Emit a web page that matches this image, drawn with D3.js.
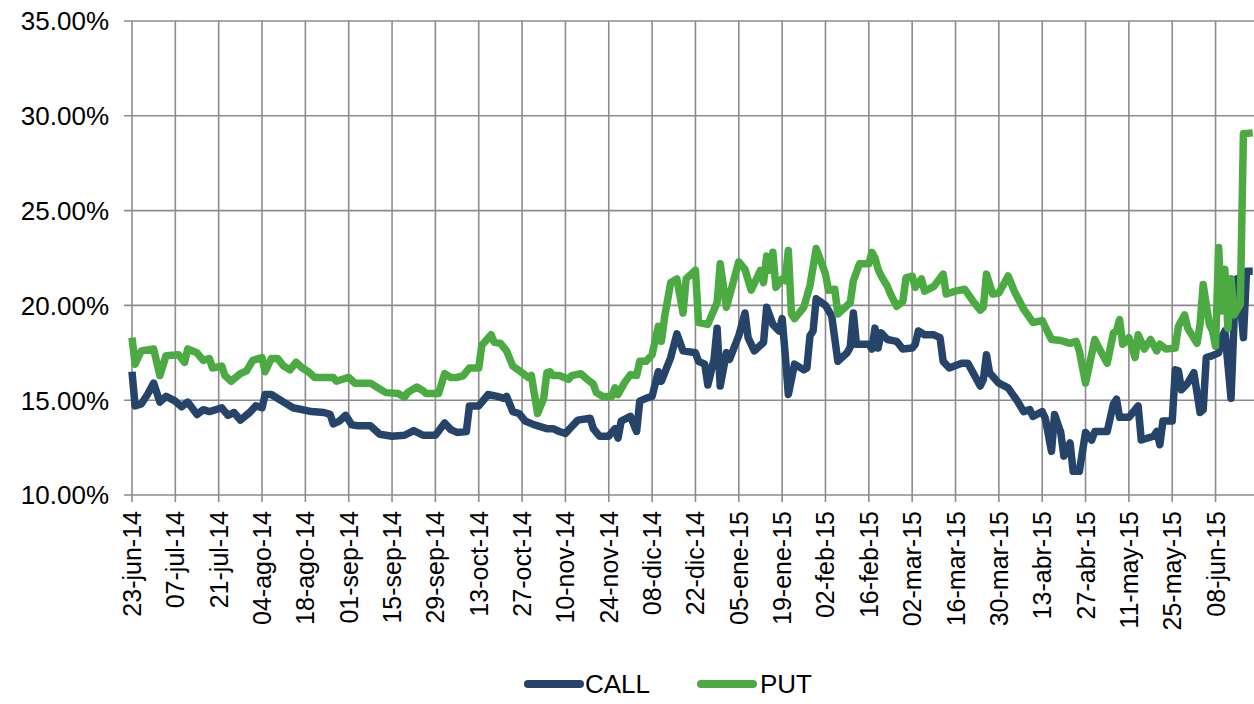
<!DOCTYPE html>
<html>
<head>
<meta charset="utf-8">
<script src="https://cdn.jsdelivr.net/npm/d3@7"></script>
<style>
  html, body { margin: 0; padding: 0; background: #ffffff; }
  svg { display: block; font-family: "Liberation Sans", Arial, sans-serif; }
</style>
</head>
<body>
<svg id="chart" width="1254" height="704"></svg>
<script>
// ---- Data ----
const seriesNames = ["CALL", "PUT"];
const yTickValues = [10, 15, 20, 25, 30, 35];
const xTickLabels = ["23-jun-14","07-jul-14","21-jul-14","04-ago-14","18-ago-14","01-sep-14","15-sep-14","29-sep-14","13-oct-14","27-oct-14","10-nov-14","24-nov-14","08-dic-14","22-dic-14","05-ene-15","19-ene-15","02-feb-15","16-feb-15","02-mar-15","16-mar-15","30-mar-15","13-abr-15","27-abr-15","11-may-15","25-may-15","08-jun-15"];

const callDates = ["2014-06-23","2014-06-24","2014-06-26","2014-06-28","2014-06-30","2014-07-02","2014-07-04","2014-07-07","2014-07-09","2014-07-11","2014-07-14","2014-07-16","2014-07-18","2014-07-22","2014-07-24","2014-07-26","2014-07-28","2014-07-31","2014-08-02","2014-08-04","2014-08-05","2014-08-07","2014-08-11","2014-08-14","2014-08-20","2014-08-24","2014-08-26","2014-08-27","2014-08-29","2014-08-31","2014-09-02","2014-09-04","2014-09-08","2014-09-11","2014-09-15","2014-09-19","2014-09-22","2014-09-25","2014-09-29","2014-10-02","2014-10-04","2014-10-06","2014-10-09","2014-10-10","2014-10-13","2014-10-16","2014-10-19","2014-10-21","2014-10-22","2014-10-24","2014-10-26","2014-10-28","2014-10-31","2014-11-04","2014-11-06","2014-11-08","2014-11-10","2014-11-12","2014-11-14","2014-11-18","2014-11-19","2014-11-21","2014-11-24","2014-11-26","2014-11-27","2014-11-28","2014-12-01","2014-12-03","2014-12-04","2014-12-06","2014-12-08","2014-12-10","2014-12-11","2014-12-14","2014-12-16","2014-12-18","2014-12-22","2014-12-23","2014-12-25","2014-12-26","2014-12-28","2014-12-29","2014-12-30","2015-01-01","2015-01-02","2015-01-05","2015-01-07","2015-01-08","2015-01-10","2015-01-13","2015-01-14","2015-01-16","2015-01-18","2015-01-19","2015-01-20","2015-01-21","2015-01-23","2015-01-26","2015-01-27","2015-01-28","2015-01-29","2015-01-30","2015-02-02","2015-02-04","2015-02-06","2015-02-09","2015-02-10","2015-02-11","2015-02-12","2015-02-16","2015-02-17","2015-02-18","2015-02-19","2015-02-20","2015-02-22","2015-02-25","2015-02-27","2015-03-02","2015-03-03","2015-03-04","2015-03-06","2015-03-09","2015-03-11","2015-03-12","2015-03-14","2015-03-18","2015-03-20","2015-03-22","2015-03-24","2015-03-25","2015-03-26","2015-03-27","2015-03-30","2015-04-02","2015-04-05","2015-04-07","2015-04-09","2015-04-10","2015-04-13","2015-04-14","2015-04-16","2015-04-17","2015-04-19","2015-04-20","2015-04-22","2015-04-23","2015-04-25","2015-04-27","2015-04-29","2015-04-30","2015-05-04","2015-05-06","2015-05-07","2015-05-08","2015-05-11","2015-05-14","2015-05-15","2015-05-19","2015-05-20","2015-05-21","2015-05-22","2015-05-25","2015-05-26","2015-05-27","2015-05-28","2015-05-30","2015-06-01","2015-06-03","2015-06-04","2015-06-05","2015-06-07","2015-06-09","2015-06-10","2015-06-11","2015-06-13","2015-06-14","2015-06-15","2015-06-16","2015-06-17","2015-06-18","2015-06-20"];
const callValues = [16.5,14.7,14.8,15.3,15.9,14.9,15.2,14.95,14.65,14.9,14.25,14.5,14.4,14.6,14.2,14.35,13.95,14.35,14.7,14.6,15.3,15.3,14.9,14.6,14.4,14.35,14.25,13.75,13.9,14.2,13.7,13.65,13.65,13.2,13.1,13.15,13.4,13.15,13.15,13.8,13.45,13.3,13.35,14.7,14.7,15.3,15.2,15.1,15.2,14.4,14.3,13.9,13.7,13.5,13.5,13.35,13.25,13.6,13.95,14.05,13.5,13.1,13.1,13.5,13.0,13.9,14.15,13.35,14.95,15.1,15.2,16.5,16.0,17.25,18.5,17.6,17.5,17.05,16.9,15.8,17.15,18.8,15.75,17.5,17.15,18.4,19.6,18.3,17.6,18.05,19.9,19.0,18.65,19.3,17.4,15.3,16.9,16.6,16.7,18.4,18.65,20.35,20.0,19.45,17.05,17.5,17.8,19.6,17.95,17.95,17.7,18.8,17.75,18.55,18.2,18.1,17.7,17.75,17.95,18.65,18.45,18.45,18.3,17.05,16.7,16.95,16.95,16.35,15.75,16.1,17.4,16.45,15.9,15.65,14.95,14.4,14.5,14.15,14.4,14.05,12.3,14.25,13.3,12.05,12.75,11.25,11.25,13.3,12.9,13.35,13.35,14.8,15.05,14.1,14.1,14.7,12.9,13.1,13.35,12.65,13.9,13.9,16.6,16.55,15.55,15.9,16.45,14.35,14.5,17.25,17.35,17.5,18.3,18.65,15.1,19.3,21.4,20.2,18.3,21.8,21.8];

const putDates = ["2014-06-23","2014-06-24","2014-06-26","2014-06-30","2014-07-02","2014-07-04","2014-07-08","2014-07-10","2014-07-11","2014-07-14","2014-07-16","2014-07-18","2014-07-19","2014-07-22","2014-07-23","2014-07-25","2014-07-28","2014-07-30","2014-08-01","2014-08-04","2014-08-05","2014-08-07","2014-08-09","2014-08-11","2014-08-13","2014-08-15","2014-08-17","2014-08-19","2014-08-21","2014-08-25","2014-08-27","2014-08-28","2014-09-01","2014-09-03","2014-09-08","2014-09-11","2014-09-13","2014-09-17","2014-09-19","2014-09-20","2014-09-23","2014-09-25","2014-09-26","2014-09-30","2014-10-02","2014-10-04","2014-10-06","2014-10-08","2014-10-10","2014-10-13","2014-10-14","2014-10-17","2014-10-18","2014-10-20","2014-10-22","2014-10-24","2014-10-27","2014-10-29","2014-10-30","2014-11-01","2014-11-03","2014-11-04","2014-11-05","2014-11-06","2014-11-08","2014-11-11","2014-11-12","2014-11-15","2014-11-17","2014-11-19","2014-11-20","2014-11-22","2014-11-25","2014-11-26","2014-11-27","2014-11-29","2014-12-01","2014-12-03","2014-12-04","2014-12-06","2014-12-08","2014-12-10","2014-12-11","2014-12-12","2014-12-14","2014-12-16","2014-12-18","2014-12-19","2014-12-22","2014-12-23","2014-12-26","2014-12-29","2014-12-30","2015-01-01","2015-01-03","2015-01-05","2015-01-07","2015-01-09","2015-01-12","2015-01-13","2015-01-14","2015-01-15","2015-01-16","2015-01-17","2015-01-19","2015-01-20","2015-01-21","2015-01-22","2015-01-23","2015-01-26","2015-01-28","2015-01-30","2015-02-02","2015-02-03","2015-02-05","2015-02-06","2015-02-09","2015-02-10","2015-02-11","2015-02-13","2015-02-15","2015-02-16","2015-02-17","2015-02-18","2015-02-19","2015-02-20","2015-02-22","2015-02-23","2015-02-25","2015-02-27","2015-02-28","2015-03-02","2015-03-03","2015-03-05","2015-03-06","2015-03-09","2015-03-12","2015-03-13","2015-03-16","2015-03-19","2015-03-22","2015-03-24","2015-03-25","2015-03-26","2015-03-28","2015-03-30","2015-04-02","2015-04-04","2015-04-07","2015-04-10","2015-04-13","2015-04-16","2015-04-19","2015-04-20","2015-04-22","2015-04-24","2015-04-25","2015-04-27","2015-04-30","2015-05-01","2015-05-04","2015-05-06","2015-05-07","2015-05-08","2015-05-09","2015-05-11","2015-05-13","2015-05-14","2015-05-16","2015-05-18","2015-05-20","2015-05-21","2015-05-23","2015-05-26","2015-05-27","2015-05-29","2015-05-30","2015-06-02","2015-06-03","2015-06-04","2015-06-06","2015-06-07","2015-06-08","2015-06-09","2015-06-10","2015-06-11","2015-06-12","2015-06-13","2015-06-14","2015-06-16","2015-06-17","2015-06-20"];
const putValues = [18.3,16.9,17.6,17.7,16.3,17.35,17.4,17.0,17.7,17.5,17.1,17.2,16.7,16.8,16.3,16.0,16.4,16.55,17.1,17.25,16.5,17.2,17.2,16.8,16.6,17.0,16.7,16.5,16.2,16.2,16.2,16.0,16.2,15.9,15.9,15.6,15.4,15.35,15.15,15.4,15.7,15.5,15.35,15.35,16.4,16.2,16.2,16.3,16.7,16.7,17.9,18.45,18.05,18.0,17.6,16.8,16.45,16.2,16.3,14.3,15.1,16.45,16.5,16.3,16.3,16.1,16.3,16.4,16.1,15.85,15.4,15.2,15.2,15.65,15.3,15.9,16.35,16.3,17.05,17.05,17.4,18.9,18.1,19.35,21.2,21.4,19.6,21.4,21.85,19.1,19.0,20.15,22.2,19.9,21.1,22.3,21.9,20.8,21.85,21.2,22.6,21.85,22.8,20.95,21.4,21.3,22.9,19.55,19.3,19.9,21.05,23.0,21.65,20.8,20.85,19.55,20.0,20.15,21.3,22.2,22.2,22.2,22.8,22.5,21.9,21.55,21.0,20.6,19.95,20.2,21.45,21.55,20.95,21.4,20.75,21.0,21.65,20.6,20.75,20.85,20.15,19.75,19.9,21.65,20.6,20.65,21.55,20.75,19.8,19.1,19.2,18.2,18.15,18.1,18.0,18.1,17.6,15.9,18.2,17.85,16.95,18.55,18.65,19.25,17.95,18.3,17.25,18.45,17.7,18.2,17.6,17.95,17.7,17.75,18.9,19.5,18.8,18.0,19.0,21.1,19.0,18.65,17.85,23.05,19.7,21.9,18.8,21.4,19.5,20.05,29.05,29.1];

const seriesColors = ["#264469", "#4bab42"];

// ---- Chart ----
const parse = d3.timeParse("%Y-%m-%d");
const svg = d3.select("#chart");
const plotLeft = 132, plotRight = 1254, plotTop = 21, plotBottom = 495;

const xStart = parse("2014-06-23");
const xEnd = new Date(2015, 5, 20, 10);
const x = d3.scaleTime().domain([xStart, xEnd]).range([plotLeft, plotRight]);
const y = d3.scaleLinear().domain([10, 35]).range([plotBottom, plotTop]);

const gridColor = "#8c8c8c";
const tickDates = xTickLabels.map((_, i) => d3.timeDay.offset(xStart, i * 14));

// horizontal gridlines
svg.append("g")
  .selectAll("line").data(yTickValues).join("line")
  .attr("x1", plotLeft - 8).attr("x2", plotRight)
  .attr("y1", d => y(d)).attr("y2", d => y(d))
  .attr("stroke", gridColor).attr("stroke-width", 1.6);

// vertical gridlines
svg.append("g")
  .selectAll("line").data(tickDates).join("line")
  .attr("x1", d => x(d)).attr("x2", d => x(d))
  .attr("y1", plotTop).attr("y2", plotBottom + 7)
  .attr("stroke", gridColor).attr("stroke-width", 1.6);

// y labels
svg.append("g")
  .selectAll("text").data(yTickValues).join("text")
  .attr("x", 109).attr("y", d => y(d))
  .attr("dy", "0.36em")
  .attr("text-anchor", "end")
  .attr("font-size", 26)
  .attr("fill", "#000")
  .text(d => d3.format(".2f")(d) + "%");

// x labels (rotated)
svg.append("g")
  .selectAll("text").data(tickDates).join("text")
  .attr("transform", d => `translate(${x(d)},${plotBottom + 16}) rotate(-90)`)
  .attr("dy", "0.36em")
  .attr("text-anchor", "end")
  .attr("font-size", 25)
  .attr("fill", "#000")
  .text((d, i) => xTickLabels[i]);

// lines
const line = d3.line().x(d => x(d.date)).y(d => y(d.value));
const callData = callDates.map((d, i) => ({ date: parse(d), value: callValues[i] }));
const putData = putDates.map((d, i) => ({ date: parse(d), value: putValues[i] }));

[callData, putData].forEach((data, i) => {
  svg.append("path")
    .datum(data)
    .attr("d", line)
    .attr("fill", "none")
    .attr("stroke", seriesColors[i])
    .attr("stroke-width", 7.5)
    .attr("stroke-linejoin", "round")
    .attr("stroke-linecap", "butt");
});

// legend
const legend = svg.append("g");
const legendItems = [{ x1: 528, tx: 585 }, { x1: 701, tx: 760 }];
seriesNames.forEach((name, i) => {
  legend.append("line")
    .attr("x1", legendItems[i].x1).attr("x2", legendItems[i].x1 + 52)
    .attr("y1", 684).attr("y2", 684)
    .attr("stroke", seriesColors[i]).attr("stroke-width", 8)
    .attr("stroke-linecap", "round");
  legend.append("text")
    .attr("x", legendItems[i].tx).attr("y", 684)
    .attr("dy", "0.36em")
    .attr("font-size", 26)
    .attr("fill", "#000")
    .text(name);
});
</script>
</body>
</html>
